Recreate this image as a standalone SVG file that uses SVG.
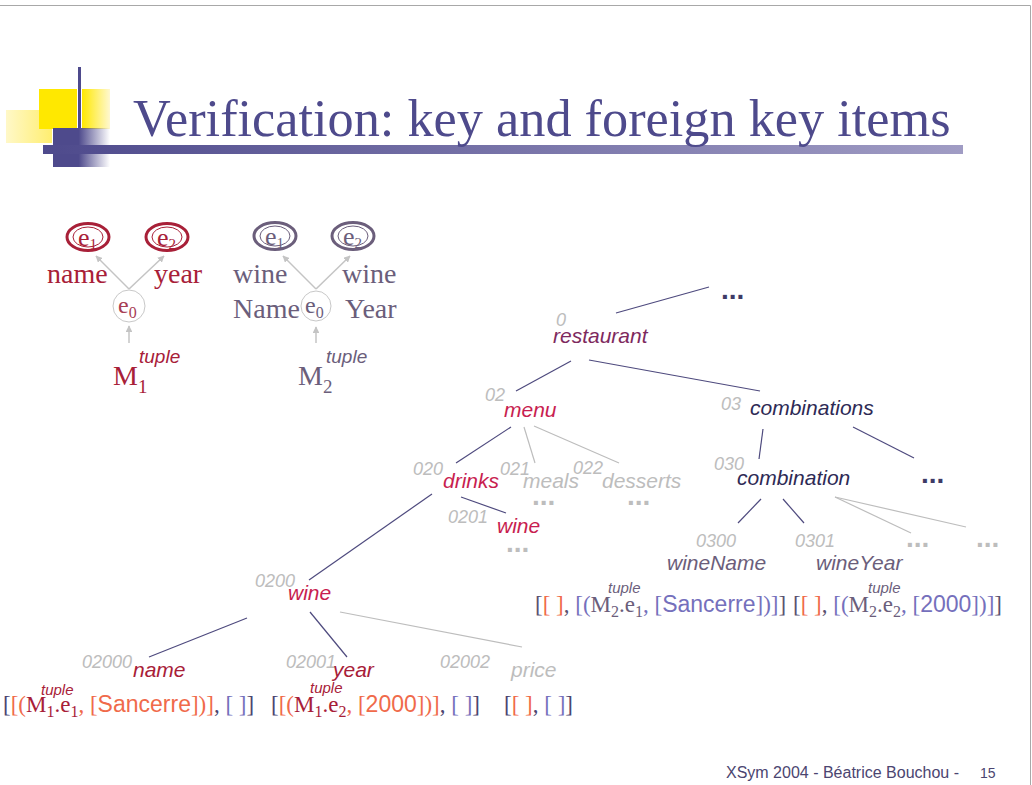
<svg xmlns="http://www.w3.org/2000/svg" width="1032" height="785" viewBox="0 0 1032 785">
  <defs>
    <style>
      .title { font-family: "Liberation Serif", "Times New Roman", serif; font-size: 52.3px; fill: #4E4A8C; }
      .ser { font-family: "Liberation Serif", "Times New Roman", serif; }
      .sans { font-family: "Liberation Sans", Arial, sans-serif; }
      .lbl { font-family: "Liberation Sans", Arial, sans-serif; font-style: italic; font-size: 21px; }
      .num { font-family: "Liberation Sans", Arial, sans-serif; font-style: italic; font-size: 18px; fill: #BDBDBD; }
      .tup { font-family: "Liberation Sans", Arial, sans-serif; font-style: italic; font-size: 19px; }
      .tupS { font-family: "Liberation Sans", Arial, sans-serif; font-style: italic; font-size: 15px; }
      .dots { font-family: "Liberation Sans", Arial, sans-serif; font-weight: bold; font-size: 28px; }
      .navy { stroke: #4E4A7E; stroke-width: 1.2; fill: none; }
      .grey { stroke: #BDBDBD; stroke-width: 1.2; fill: none; }
      .arr { stroke: #C4C4C4; stroke-width: 1.5; fill: none; marker-end: url(#ah); }
      .br { font-family: "Liberation Serif", "Times New Roman", serif; font-size: 23px; }
      .o { fill: #F06A4A; }
      .n { fill: #4B4570; }
      .l { fill: #7570BC; }
      .r { fill: #A82038; }
      .p { fill: #6B5E7B; }
      .d { fill: #5A5270; }
    </style>
    <marker id="ah" viewBox="0 0 10 10" refX="9" refY="5" markerWidth="4.5" markerHeight="4.5" orient="auto">
      <path d="M0,0 L10,5 L0,10 Z" fill="#C4C4C4"/>
    </marker>
    <linearGradient id="barG" x1="0" y1="0" x2="1" y2="0">
      <stop offset="0" stop-color="#4E4A8C"/>
      <stop offset="1" stop-color="#A09CC4"/>
    </linearGradient>
    <linearGradient id="yelFade" x1="0" y1="0" x2="1" y2="0">
      <stop offset="0" stop-color="#FFE800"/>
      <stop offset="1" stop-color="#FFF8D0"/>
    </linearGradient>
    <linearGradient id="paleFade" x1="0" y1="0" x2="1" y2="0">
      <stop offset="0" stop-color="#FFF8C8"/>
      <stop offset="1" stop-color="#FFEE70"/>
    </linearGradient>
    <linearGradient id="purFade" x1="0" y1="0" x2="1" y2="0">
      <stop offset="0" stop-color="#4E4A8C"/>
      <stop offset="0.45" stop-color="#4E4A8C"/>
      <stop offset="1" stop-color="#4E4A8C" stop-opacity="0"/>
    </linearGradient>
  </defs>

  <rect width="1032" height="785" fill="#FFFFFF"/>
  <!-- page frame -->
  <path d="M0,5.5 H1030.5 V785" fill="none" stroke="#A8A8A8" stroke-width="1"/>

  <!-- title ornament -->
  <g id="ornament">
    <rect x="6" y="110" width="46" height="33" fill="url(#paleFade)"/>
    <rect x="39" y="89" width="38" height="40" fill="#FFE800"/>
    <rect x="82" y="89" width="28" height="40" fill="url(#yelFade)"/>
    <rect x="53" y="128" width="57" height="39" fill="url(#purFade)"/>
    <rect x="78" y="67" width="3" height="61" fill="#4E4A8C"/>
    <rect x="43" y="145" width="920" height="9" fill="url(#barG)"/>
  </g>
  <text class="title" x="133" y="136">Verification: key and foreign key items</text>

  <!-- M1 tuple automaton -->
  <g id="m1">
    <ellipse cx="88" cy="237" rx="21" ry="13.5" fill="none" stroke="#A82038" stroke-width="3"/>
    <ellipse cx="88" cy="237" rx="15" ry="10" fill="none" stroke="#A82038" stroke-width="1"/>
    <text class="ser r" x="78" y="246" font-size="26">e<tspan font-size="15" dy="3">1</tspan></text>
    <ellipse cx="167" cy="237" rx="21" ry="13.5" fill="none" stroke="#A82038" stroke-width="3"/>
    <ellipse cx="167" cy="237" rx="15" ry="10" fill="none" stroke="#A82038" stroke-width="1"/>
    <text class="ser r" x="157" y="246" font-size="26">e<tspan font-size="15" dy="3">2</tspan></text>
    <circle cx="129" cy="306" r="16" fill="none" stroke="#C8C8C8" stroke-width="1"/>
    <text class="ser" x="118" y="313" font-size="24" fill="#A84055">e<tspan font-size="16" dy="5">0</tspan></text>
    <path class="arr" d="M129,289 L96,256"/>
    <path class="arr" d="M129,289 L164,256"/>
    <path class="arr" d="M129,343 L129,326"/>
    <text class="ser r" x="47" y="283" font-size="28">name</text>
    <text class="ser r" x="154" y="283" font-size="28">year</text>
    <text class="ser r" x="113" y="385" font-size="28">M<tspan font-size="19" dy="8">1</tspan></text>
    <text class="tup r" x="139" y="363">tuple</text>
  </g>

  <!-- M2 tuple automaton -->
  <g id="m2">
    <ellipse cx="275" cy="236" rx="21" ry="13.5" fill="none" stroke="#6B5E7B" stroke-width="3"/>
    <ellipse cx="275" cy="236" rx="15" ry="10" fill="none" stroke="#6B5E7B" stroke-width="1"/>
    <text class="ser p" x="265" y="245" font-size="26">e<tspan font-size="15" dy="3">1</tspan></text>
    <ellipse cx="353" cy="236" rx="21" ry="13.5" fill="none" stroke="#6B5E7B" stroke-width="3"/>
    <ellipse cx="353" cy="236" rx="15" ry="10" fill="none" stroke="#6B5E7B" stroke-width="1"/>
    <text class="ser p" x="343" y="245" font-size="26">e<tspan font-size="15" dy="3">2</tspan></text>
    <circle cx="316" cy="306" r="15" fill="none" stroke="#C8C8C8" stroke-width="1"/>
    <text class="ser p" x="305" y="313" font-size="24">e<tspan font-size="16" dy="5">0</tspan></text>
    <path class="arr" d="M316,289 L283,256"/>
    <path class="arr" d="M316,289 L350,256"/>
    <path class="arr" d="M316,343 L316,327"/>
    <text class="ser p" x="233" y="283" font-size="28">wine</text>
    <text class="ser p" x="233" y="318" font-size="28">Name</text>
    <text class="ser p" x="342" y="283" font-size="28">wine</text>
    <text class="ser p" x="345" y="318" font-size="28">Year</text>
    <text class="ser p" x="298" y="385" font-size="28">M<tspan font-size="19" dy="8">2</tspan></text>
    <text class="tup p" x="326" y="363">tuple</text>
  </g>

  <!-- tree edges -->
  <g id="edges">
    <path class="navy" d="M616,313 L709,287"/>
    <path class="navy" d="M571,361 L516,391"/>
    <path class="navy" d="M589,360 L760,391"/>
    <path class="navy" d="M511,427 L456,463"/>
    <path class="grey" d="M524,427 L535,463"/>
    <path class="grey" d="M534,426 L619,463"/>
    <path class="navy" d="M461,497 L506,513"/>
    <path class="navy" d="M432,494 L309,580"/>
    <path class="navy" d="M247,618 L149,657"/>
    <path class="navy" d="M310,612 L347,657"/>
    <path class="grey" d="M340,612 L522,647"/>
    <path class="navy" d="M763,429 L759,459"/>
    <path class="navy" d="M853,427 L914,458"/>
    <path class="navy" d="M761,499 L738,523"/>
    <path class="navy" d="M783,499 L804,523"/>
    <path class="grey" d="M835,497 L911,533"/>
    <path class="grey" d="M835,497 L966,527"/>
  </g>

  <!-- tree nodes -->
  <g id="n-top"><text class="dots" x="721" y="299" fill="#3E3A66">...</text></g>
  <g id="n-restaurant">
    <text class="num" x="556" y="326">0</text>
    <text class="lbl" x="553" y="343" fill="#7E2A5E">restaurant</text>
  </g>
  <g id="n-menu">
    <text class="num" x="485" y="401">02</text>
    <text class="lbl" x="504" y="417" fill="#C81E50">menu</text>
  </g>
  <g id="n-drinks">
    <text class="num" x="413" y="475">020</text>
    <text class="lbl" x="443" y="488" fill="#C81E50">drinks</text>
  </g>
  <g id="n-meals">
    <text class="num" x="500" y="475">021</text>
    <text class="lbl" x="523" y="488" fill="#BDBDBD">meals</text>
    <text class="dots" x="532" y="505" fill="#BDBDBD">...</text>
  </g>
  <g id="n-desserts">
    <text class="num" x="573" y="474">022</text>
    <text class="lbl" x="602" y="488" fill="#BDBDBD">desserts</text>
    <text class="dots" x="627" y="505" fill="#BDBDBD">...</text>
  </g>
  <g id="n-wine0201">
    <text class="num" x="448" y="523">0201</text>
    <text class="lbl" x="497" y="533" fill="#C81E50">wine</text>
    <text class="dots" x="506" y="552" fill="#BDBDBD">...</text>
  </g>
  <g id="n-wine0200">
    <text class="num" x="255" y="587">0200</text>
    <text class="lbl" x="288" y="600" fill="#C81E50">wine</text>
  </g>
  <g id="n-name">
    <text class="num" x="82" y="668">02000</text>
    <text class="lbl" x="133" y="677" fill="#A82038">name</text>
  </g>
  <g id="n-year">
    <text class="num" x="286" y="668">02001</text>
    <text class="lbl" x="333" y="677" fill="#A82038">year</text>
  </g>
  <g id="n-price">
    <text class="num" x="440" y="668">02002</text>
    <text class="lbl" x="511" y="677" fill="#BDBDBD">price</text>
  </g>
  <g id="n-combinations">
    <text class="num" x="721" y="410">03</text>
    <text class="lbl" x="750" y="415" fill="#2E2A55">combinations</text>
  </g>
  <g id="n-more">
    <text class="dots" x="921" y="483" fill="#3E3A66">...</text>
  </g>
  <g id="n-combination">
    <text class="num" x="714" y="470">030</text>
    <text class="lbl" x="737" y="485" fill="#2E2A55">combination</text>
  </g>
  <g id="n-wineName">
    <text class="num" x="696" y="547">0300</text>
    <text class="lbl" x="667" y="570" fill="#6B5E7B">wineName</text>
  </g>
  <g id="n-wineYear">
    <text class="num" x="795" y="547">0301</text>
    <text class="lbl" x="816" y="570" fill="#6B5E7B">wineYear</text>
  </g>
  <g id="n-dots1"><text class="dots" x="906" y="547" fill="#BDBDBD">...</text></g>
  <g id="n-dots2"><text class="dots" x="976" y="547" fill="#BDBDBD">...</text></g>

  <!-- key / foreign key item annotations -->
  <g id="items-name">
    <text class="br" x="3" y="712"><tspan class="n">[</tspan><tspan class="o">[(</tspan><tspan class="r">M</tspan><tspan class="r" font-size="16" dy="5">1</tspan><tspan class="r" dy="-5">.e</tspan><tspan class="r" font-size="16" dy="5">1</tspan><tspan class="o" dy="-5">, [</tspan><tspan class="o sans">Sancerre</tspan><tspan class="o">])]</tspan><tspan class="n">, </tspan><tspan class="l">[ ]</tspan><tspan class="n">]</tspan></text>
    <text class="tupS r" x="41" y="695">tuple</text>
  </g>
  <g id="items-year">
    <text class="br" x="271" y="712"><tspan class="n">[</tspan><tspan class="o">[(</tspan><tspan class="r">M</tspan><tspan class="r" font-size="16" dy="5">1</tspan><tspan class="r" dy="-5">.e</tspan><tspan class="r" font-size="16" dy="5">2</tspan><tspan class="o" dy="-5">, [</tspan><tspan class="o sans">2000</tspan><tspan class="o">])]</tspan><tspan class="n">, </tspan><tspan class="l">[ ]</tspan><tspan class="n">]</tspan></text>
    <text class="tupS r" x="310" y="693">tuple</text>
  </g>
  <g id="items-price">
    <text class="br" x="504" y="712"><tspan class="n">[</tspan><tspan class="o">[ ]</tspan><tspan class="n">, </tspan><tspan class="l">[ ]</tspan><tspan class="n">]</tspan></text>
  </g>
  <g id="items-wineName">
    <text class="br" x="535" y="612"><tspan class="d">[</tspan><tspan class="o">[ ]</tspan><tspan class="d">, </tspan><tspan class="l">[(</tspan><tspan class="p">M</tspan><tspan class="p" font-size="16" dy="5">2</tspan><tspan class="p" dy="-5">.e</tspan><tspan class="p" font-size="16" dy="5">1</tspan><tspan class="l" dy="-5">, [</tspan><tspan class="l sans">Sancerre</tspan><tspan class="l">])]</tspan><tspan class="d">]</tspan></text>
    <text class="tupS p" x="608" y="593">tuple</text>
  </g>
  <g id="items-wineYear">
    <text class="br" x="793" y="612"><tspan class="d">[</tspan><tspan class="o">[ ]</tspan><tspan class="d">, </tspan><tspan class="l">[(</tspan><tspan class="p">M</tspan><tspan class="p" font-size="16" dy="5">2</tspan><tspan class="p" dy="-5">.e</tspan><tspan class="p" font-size="16" dy="5">2</tspan><tspan class="l" dy="-5">, [</tspan><tspan class="l sans">2000</tspan><tspan class="l">])]</tspan><tspan class="d">]</tspan></text>
    <text class="tupS p" x="868" y="593">tuple</text>
  </g>

  <!-- footer -->
  <g id="footer">
    <text class="sans" x="726" y="778" font-size="16" fill="#4B4570">XSym 2004 - Béatrice Bouchou -</text>
    <text class="sans" x="980" y="778" font-size="14" fill="#4B4570">15</text>
  </g>
</svg>
